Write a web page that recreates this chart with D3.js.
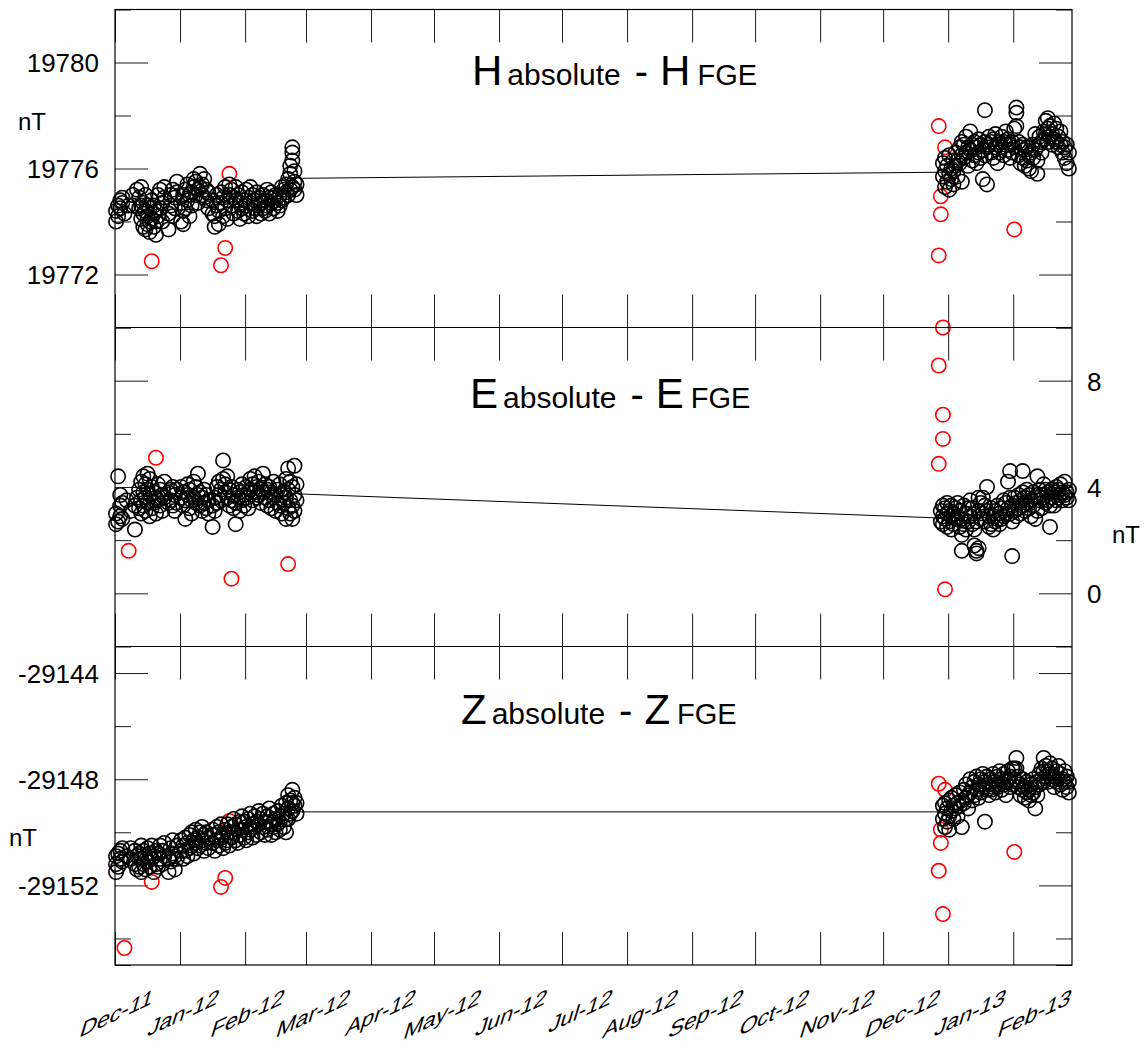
<!DOCTYPE html>
<html>
<head>
<meta charset="utf-8">
<script src="https://cdn.jsdelivr.net/npm/d3@7"></script>
<style>
  body { margin: 0; background: #fff; }
  svg { display: block; }
  text { font-family: "Liberation Sans", Arial, Helvetica, sans-serif; fill: #000; }
</style>
</head>
<body>
<svg id="chart" width="1145" height="1048"></svg>
<script>
// Month labels along the bottom axis
const monthLabels = ["Dec-11","Jan-12","Feb-12","Mar-12","Apr-12","May-12","Jun-12",
                     "Jul-12","Aug-12","Sep-12","Oct-12","Nov-12","Dec-12","Jan-13","Feb-13"];

// Tick values for each panel (labelled majors, unlabelled minors)
const hMajor = [19772, 19776, 19780], hMinor = [19770, 19774, 19778, 19782];
const eMajor = [0, 4, 8],             eMinor = [-2, 2, 6, 10];
const zMajor = [-29152, -29148, -29144], zMinor = [-29155, -29154, -29150, -29146];

// H: absolute - FGE, accepted observations (date, values measured that day)
const hObs = [
["2011-12-01",19774.0,19774.4],["2011-12-02",19774.6,19774.2],["2011-12-03",19774.8,19774.5],
["2011-12-04",19774.7,19774.9],["2011-12-05",19774.3],["2011-12-07",19774.6],
["2011-12-09",19775.0,19774.6],["2011-12-11",19775.2],["2011-12-12",19774.5,19774.9],
["2011-12-13",19774.1,19774.6,19775.3],["2011-12-14",19773.8,19774.3,19774.7],
["2011-12-15",19773.7,19774.4,19775.0],["2011-12-16",19773.9,19774.2,19774.6],
["2011-12-17",19773.6,19774.0,19774.5],["2011-12-18",19774.1,19774.8],
["2011-12-19",19773.8,19774.3,19774.6],["2011-12-20",19773.5,19774.0,19774.4],
["2011-12-21",19774.2,19775.0],["2011-12-22",19774.5,19775.2],["2011-12-23",19774.0,19774.7],
["2011-12-24",19774.9,19775.3],["2011-12-26",19773.7,19774.3],["2011-12-27",19774.6,19775.0],
["2011-12-28",19774.2,19775.2],["2011-12-29",19774.5,19774.9],["2011-12-30",19775.1,19775.5],
["2012-01-01",19774.0,19774.7],["2012-01-02",19773.9,19774.4,19775.0],["2012-01-03",19774.5,19775.2],
["2012-01-04",19774.8,19775.4],["2012-01-05",19774.2,19775.0],["2012-01-06",19774.6,19775.1],
["2012-01-07",19775.3,19775.6],["2012-01-08",19775.0,19775.5],["2012-01-09",19774.7,19775.2],
["2012-01-10",19775.8,19775.3],["2012-01-11",19775.0,19775.4],["2012-01-12",19774.9,19775.6],
["2012-01-13",19775.2,19774.8],["2012-01-14",19774.5,19775.1],["2012-01-16",19774.3,19774.8],
["2012-01-17",19773.8,19774.2],["2012-01-18",19774.6,19775.0],["2012-01-19",19773.9,19774.4],
["2012-01-20",19774.7,19775.1],["2012-01-21",19774.2,19774.9],["2012-01-22",19774.5,19775.3],
["2012-01-23",19774.1,19774.8],["2012-01-24",19775.0,19775.4],["2012-01-25",19774.6,19775.2],
["2012-01-26",19774.3,19774.9],["2012-01-27",19774.8,19775.3],["2012-01-28",19774.4,19775.0],
["2012-01-29",19774.1,19774.7],["2012-01-30",19775.1,19774.5],["2012-01-31",19774.3,19774.8],
["2012-02-01",19774.6,19775.2],["2012-02-02",19774.2,19774.9],["2012-02-03",19774.7,19775.3],
["2012-02-04",19774.4,19775.0],["2012-02-05",19774.5,19774.8],["2012-02-06",19774.2,19775.1],
["2012-02-07",19774.6,19774.9],["2012-02-08",19774.3,19774.7],["2012-02-09",19774.5,19775.0],
["2012-02-10",19774.8,19774.4],["2012-02-11",19774.6,19775.2],["2012-02-12",19774.3,19774.9],
["2012-02-13",19774.7,19775.1],["2012-02-14",19774.5,19774.9],["2012-02-15",19774.8,19775.0],
["2012-02-16",19774.4,19774.7],["2012-02-17",19775.0,19774.6],["2012-02-18",19774.8,19775.3],
["2012-02-19",19774.9,19775.2],["2012-02-20",19775.1,19775.4],["2012-02-21",19775.0,19775.6],
["2012-02-22",19775.2,19775.8,19776.1],["2012-02-23",19775.3,19776.3,19776.6,19776.8],
["2012-02-24",19775.5,19775.9,19775.2],["2012-02-25",19775.4,19775.0],
["2012-12-29",19775.7,19776.2],["2012-12-30",19775.3,19775.9,19776.4],["2012-12-31",19775.5,19776.1],
["2013-01-01",19775.8,19776.5,19775.2],["2013-01-02",19776.0,19775.6],["2013-01-03",19776.3,19775.9,19775.4],
["2013-01-04",19776.6,19776.1],["2013-01-05",19775.7,19776.3],["2013-01-06",19776.8,19776.2],
["2013-01-07",19776.5,19775.5,19777.0],["2013-01-08",19776.9,19776.4],["2013-01-09",19777.2,19776.6],
["2013-01-10",19776.1,19776.8],["2013-01-11",19777.4,19776.7],["2013-01-12",19776.3,19776.9],
["2013-01-13",19777.0,19776.5],["2013-01-14",19776.8,19776.2],["2013-01-15",19777.1,19776.6],
["2013-01-16",19776.4,19776.9],["2013-01-17",19775.6,19776.7],["2013-01-18",19778.2,19777.0,19776.5],
["2013-01-19",19775.4,19776.8],["2013-01-20",19776.9,19777.2],["2013-01-21",19776.6,19777.0],
["2013-01-22",19776.4,19777.1],["2013-01-23",19776.8,19777.3],["2013-01-24",19776.2,19776.9],
["2013-01-25",19777.0,19776.6],["2013-01-26",19776.8,19777.2],["2013-01-27",19776.5,19777.0],
["2013-01-28",19777.4,19776.9],["2013-01-29",19776.7,19777.1],["2013-01-30",19776.4,19776.9],
["2013-01-31",19777.0,19776.6],["2013-02-01",19777.5,19776.8],["2013-02-02",19778.3,19778.1,19777.6],
["2013-02-03",19777.0,19776.5],["2013-02-04",19776.8,19776.2],["2013-02-05",19776.4,19776.9],
["2013-02-06",19776.7,19776.1],["2013-02-07",19776.3,19776.8],["2013-02-08",19776.0,19776.5],
["2013-02-09",19775.9,19776.6],["2013-02-10",19776.4,19776.9],["2013-02-11",19777.3,19776.7],
["2013-02-12",19775.8,19776.3],["2013-02-13",19776.9,19777.2],["2013-02-14",19777.0,19776.6],
["2013-02-15",19777.4,19777.1],["2013-02-16",19777.8,19777.3],["2013-02-17",19777.9,19777.5,19777.0],
["2013-02-18",19777.6,19777.2],["2013-02-19",19777.3,19776.9],["2013-02-20",19777.7,19777.1],
["2013-02-21",19777.5,19777.0],["2013-02-22",19777.2,19776.8],["2013-02-23",19777.4,19776.9],
["2013-02-24",19777.0,19776.6],["2013-02-25",19776.8,19776.4],["2013-02-26",19776.9,19776.2],
["2013-02-27",19776.6,19776.0]
];
// H: rejected observations
const hOut = [
["2011-12-18",19772.5],["2012-01-20",19772.35],["2012-01-22",19773.0],["2012-01-24",19775.8],
["2012-12-27",19777.6],["2012-12-30",19776.8],["2012-12-28",19774.95],["2012-12-28",19774.27],
["2012-12-27",19772.72],["2013-02-01",19773.7]
];
// H: link between the two campaign ends
const hLink = [["2012-02-26",19775.63],["2012-12-29",19775.86]];

// E: absolute - FGE
const eObs = [
["2011-12-01",2.6,3.0],["2011-12-02",4.4,2.7],["2011-12-03",3.7,2.9,3.3],["2011-12-04",3.4,2.8],
["2011-12-06",3.5],["2011-12-08",3.1],["2011-12-10",2.4,3.3],["2011-12-11",3.6],
["2011-12-12",3.9,3.2],["2011-12-13",4.2,3.5,3.0],["2011-12-14",4.4,3.8,3.3],["2011-12-15",4.1,3.6,3.1],
["2011-12-16",4.5,3.9,3.4],["2011-12-17",4.3,3.7,2.9],["2011-12-18",4.0,3.2],["2011-12-19",3.8,3.4],
["2011-12-20",3.6,3.0],["2011-12-21",4.1,3.5],["2011-12-22",3.9,3.3],["2011-12-23",3.7,3.1],
["2011-12-24",4.2,3.6],["2011-12-26",3.8,3.4],["2011-12-27",3.5,3.9],["2011-12-28",4.0,3.3],
["2011-12-29",3.7,3.1],["2011-12-30",3.9,3.4],["2012-01-01",3.6,4.0],["2012-01-02",3.3,3.8],
["2012-01-03",2.8,3.5],["2012-01-04",3.7,4.1],["2012-01-05",3.2,3.9],["2012-01-06",3.5,3.0],
["2012-01-07",4.2,3.6],["2012-01-08",3.4,4.0],["2012-01-09",4.5,3.7],["2012-01-10",3.8,3.3],
["2012-01-11",3.6,3.1],["2012-01-12",3.9,3.4],["2012-01-13",3.2,3.7],["2012-01-14",3.5,3.0],
["2012-01-16",2.5,3.3],["2012-01-17",3.6,3.1],["2012-01-18",4.0,3.4],["2012-01-19",3.7,4.2],
["2012-01-20",3.9,3.5],["2012-01-21",5.0,4.3],["2012-01-22",3.8,4.1],["2012-01-23",3.6,4.4],
["2012-01-24",3.3,3.9],["2012-01-25",4.0,3.5],["2012-01-26",3.7,3.2],["2012-01-27",2.6,3.4],
["2012-01-28",3.9,3.6],["2012-01-29",3.1,3.8],["2012-01-30",4.1,3.5],["2012-01-31",3.7,3.3],
["2012-02-01",4.0,3.6],["2012-02-02",3.8,3.2],["2012-02-03",4.3,3.9],["2012-02-04",3.5,4.1],
["2012-02-05",4.4,3.8],["2012-02-06",3.6,4.0],["2012-02-07",4.2,3.7],["2012-02-08",3.4,3.9],
["2012-02-09",4.5,3.8],["2012-02-10",3.6,4.1],["2012-02-11",3.3,3.9],["2012-02-12",4.0,3.5],
["2012-02-13",3.2,3.8],["2012-02-14",4.2,3.6],["2012-02-15",3.1,3.7],["2012-02-16",3.9,3.4],
["2012-02-17",4.1,3.3],["2012-02-18",3.0,3.7],["2012-02-19",3.8,3.4],["2012-02-20",4.3,3.6,2.8],
["2012-02-21",4.7,3.9,3.2],["2012-02-22",4.2,3.5,3.0],["2012-02-23",4.0,3.3,2.8],
["2012-02-24",4.8,3.7,3.1],["2012-02-25",4.1,3.5],
["2012-12-28",2.7,3.1],["2012-12-29",2.9,3.3,2.6],["2012-12-30",3.2,2.8],["2012-12-31",3.0,2.5,3.4],
["2013-01-01",2.7,3.1],["2013-01-02",3.3,2.9,2.4],["2013-01-03",2.6,3.0],["2013-01-04",2.8,3.2],
["2013-01-05",2.9,3.4],["2013-01-06",2.5,3.1],["2013-01-07",1.6,2.8,2.2],["2013-01-08",3.3,2.6],
["2013-01-09",2.4,3.0],["2013-01-10",2.7,3.2],["2013-01-11",2.9,3.5],["2013-01-12",3.2,2.6],
["2013-01-13",2.4,3.0,1.8],["2013-01-14",1.6,1.5,2.7],["2013-01-15",1.7,3.1,3.6],["2013-01-16",3.4,2.8],
["2013-01-17",3.6,3.0],["2013-01-18",3.3,2.7],["2013-01-19",4.0,3.1],["2013-01-20",2.9,2.5],
["2013-01-21",3.2,2.6],["2013-01-22",2.4,2.9],["2013-01-23",3.1,2.7],["2013-01-24",2.8,3.3],
["2013-01-25",2.6,3.0],["2013-01-26",3.2,2.8],["2013-01-27",3.5,2.9],["2013-01-28",3.0,3.4],
["2013-01-29",4.2,3.2],["2013-01-30",4.6,3.6,3.0],["2013-01-31",1.4,3.3,2.7],["2013-02-01",3.6,3.1],
["2013-02-02",3.4,2.9],["2013-02-03",3.7,3.2],["2013-02-04",3.5,3.0],["2013-02-05",4.6,3.8,3.3],
["2013-02-06",3.6,3.1],["2013-02-07",3.9,3.4],["2013-02-08",3.2,3.7],["2013-02-09",3.5,2.9],
["2013-02-10",3.8,3.3],["2013-02-11",2.8,3.6],["2013-02-12",4.4,3.7,3.1],["2013-02-13",3.5,3.9],
["2013-02-14",3.2,3.7],["2013-02-15",4.1,3.6],["2013-02-16",3.4,3.9],["2013-02-17",3.8,3.5],
["2013-02-18",2.5,3.3],["2013-02-19",3.6,3.9],["2013-02-20",3.3,3.8],["2013-02-21",3.5,4.0],
["2013-02-22",3.9,3.6],["2013-02-23",4.1,3.7],["2013-02-24",3.5,3.8],["2013-02-25",4.2,3.7],
["2013-02-26",3.8,3.6],["2013-02-27",3.9,3.5]
];
const eOut = [
["2011-12-07",1.6],["2011-12-20",5.1],["2012-01-25",0.55],["2012-02-21",1.1],
["2012-12-29",10.0],["2012-12-27",8.57],["2012-12-29",6.72],["2012-12-29",5.81],
["2012-12-27",4.87],["2012-12-30",0.15]
];
const eLink = [["2012-02-26",3.74],["2012-12-29",2.83]];

// Z: absolute - FGE
const zObs = [
["2011-12-01",-29151.2,-29151.5,-29150.9],["2011-12-02",-29150.8,-29151.3],["2011-12-03",-29150.7,-29151.0],
["2011-12-04",-29151.1,-29150.6],["2011-12-06",-29150.9],["2011-12-08",-29151.0,-29150.6],
["2011-12-10",-29150.7,-29151.2],["2011-12-11",-29151.4,-29150.9],["2011-12-12",-29150.8,-29151.3],
["2011-12-13",-29151.0,-29150.5,-29151.5],["2011-12-14",-29150.7,-29151.2],["2011-12-15",-29151.4,-29150.9],
["2011-12-16",-29150.6,-29151.1],["2011-12-17",-29151.3,-29150.8],["2011-12-18",-29151.0,-29150.5],
["2011-12-19",-29151.5,-29150.9],["2011-12-20",-29151.2,-29150.7],["2011-12-21",-29150.8,-29151.3],
["2011-12-22",-29150.5,-29151.0],["2011-12-23",-29151.2,-29150.7],["2011-12-24",-29150.4,-29150.9],
["2011-12-26",-29151.5,-29151.0],["2011-12-27",-29150.6,-29151.1],["2011-12-28",-29150.3,-29150.8],
["2011-12-29",-29151.4,-29150.9],["2011-12-30",-29150.5,-29151.0],["2012-01-01",-29150.7,-29150.3],
["2012-01-02",-29151.0,-29150.5],["2012-01-03",-29150.2,-29150.7],["2012-01-04",-29150.9,-29150.4],
["2012-01-05",-29150.1,-29150.6],["2012-01-06",-29150.5,-29150.0],["2012-01-07",-29150.8,-29150.3],
["2012-01-08",-29149.9,-29150.4],["2012-01-09",-29150.6,-29150.2],["2012-01-10",-29150.0,-29150.5],
["2012-01-11",-29150.3,-29149.8],["2012-01-12",-29150.7,-29150.1],["2012-01-13",-29150.4,-29150.0],
["2012-01-14",-29150.6,-29150.2],["2012-01-16",-29150.4,-29149.9],["2012-01-17",-29150.1,-29150.7],
["2012-01-18",-29149.8,-29150.3],["2012-01-19",-29150.5,-29150.0],["2012-01-20",-29150.2,-29149.7],
["2012-01-21",-29150.6,-29150.1],["2012-01-22",-29149.9,-29150.4],["2012-01-23",-29150.3,-29149.7],
["2012-01-24",-29150.0,-29150.5],["2012-01-25",-29149.8,-29150.2],["2012-01-26",-29149.5,-29150.0],
["2012-01-27",-29150.3,-29149.7],["2012-01-28",-29149.9,-29150.4],["2012-01-29",-29149.6,-29150.1],
["2012-01-30",-29149.4,-29149.9],["2012-01-31",-29150.2,-29149.6],["2012-02-01",-29149.8,-29150.3],
["2012-02-02",-29149.5,-29150.0],["2012-02-03",-29149.9,-29149.3],["2012-02-04",-29149.7,-29150.2],
["2012-02-05",-29149.4,-29149.8],["2012-02-06",-29150.1,-29149.6],["2012-02-07",-29149.2,-29149.7],
["2012-02-08",-29149.5,-29150.0],["2012-02-09",-29149.8,-29149.3],["2012-02-10",-29149.6,-29150.1],
["2012-02-11",-29149.4,-29149.9],["2012-02-12",-29149.1,-29149.6],["2012-02-13",-29149.7,-29150.1],
["2012-02-14",-29149.3,-29149.8],["2012-02-15",-29149.5,-29150.0],["2012-02-16",-29149.2,-29149.7],
["2012-02-17",-29149.6,-29149.9],["2012-02-18",-29149.0,-29149.4],["2012-02-19",-29149.3,-29149.8],
["2012-02-20",-29148.9,-29149.5,-29150.0],["2012-02-21",-29148.6,-29149.1,-29149.5],
["2012-02-22",-29148.8,-29149.3],["2012-02-23",-29148.4,-29148.9,-29149.2],["2012-02-24",-29148.7,-29149.0],
["2012-02-25",-29148.9,-29149.3],
["2012-12-29",-29149.0,-29149.5],["2012-12-30",-29149.3,-29149.8,-29148.9],["2012-12-31",-29149.6,-29149.1],
["2013-01-01",-29148.8,-29149.4,-29149.9],["2013-01-02",-29149.2,-29148.7],["2013-01-03",-29149.5,-29149.0],
["2013-01-04",-29148.6,-29149.1],["2013-01-05",-29148.9,-29149.4],["2013-01-06",-29148.5,-29149.0],
["2013-01-07",-29149.8,-29148.8],["2013-01-08",-29148.4,-29148.9],["2013-01-09",-29148.2,-29148.7],
["2013-01-10",-29148.6,-29149.1],["2013-01-11",-29148.0,-29148.5],["2013-01-12",-29148.3,-29148.8],
["2013-01-13",-29148.1,-29148.6],["2013-01-14",-29147.9,-29148.4],["2013-01-15",-29148.2,-29148.7],
["2013-01-16",-29148.5,-29148.0],["2013-01-17",-29147.8,-29148.3],["2013-01-18",-29149.6,-29148.1],
["2013-01-19",-29148.4,-29147.9],["2013-01-20",-29148.2,-29148.6],["2013-01-21",-29148.0,-29148.4],
["2013-01-22",-29148.3,-29147.8],["2013-01-23",-29148.1,-29148.5],["2013-01-24",-29147.9,-29148.3],
["2013-01-25",-29148.2,-29147.7],["2013-01-26",-29148.0,-29148.4],["2013-01-27",-29147.8,-29148.2],
["2013-01-28",-29148.1,-29148.6],["2013-01-29",-29147.7,-29148.0],["2013-01-30",-29147.9,-29148.3],
["2013-01-31",-29148.2,-29147.6],["2013-02-01",-29147.6,-29148.0],["2013-02-02",-29147.2,-29147.6,-29148.1],
["2013-02-03",-29147.9,-29148.3],["2013-02-04",-29148.2,-29148.6],["2013-02-05",-29148.0,-29148.4],
["2013-02-06",-29148.3,-29148.7],["2013-02-07",-29148.1,-29148.5],["2013-02-08",-29148.4,-29148.8],
["2013-02-09",-29148.2,-29148.6],["2013-02-10",-29148.0,-29148.5],["2013-02-11",-29148.3,-29149.1],
["2013-02-12",-29148.1,-29148.6],["2013-02-13",-29147.8,-29148.2],["2013-02-14",-29147.6,-29148.0],
["2013-02-15",-29147.2,-29147.7,-29148.1],["2013-02-16",-29147.5,-29147.9],["2013-02-17",-29147.7,-29148.1],
["2013-02-18",-29147.4,-29147.8],["2013-02-19",-29147.6,-29148.0],["2013-02-20",-29147.9,-29148.3],
["2013-02-21",-29147.7,-29148.1],["2013-02-22",-29147.5,-29148.0],["2013-02-23",-29147.8,-29148.2],
["2013-02-24",-29148.0,-29148.4],["2013-02-25",-29147.7,-29148.1],["2013-02-26",-29147.9,-29148.3],
["2013-02-27",-29148.1,-29148.5]
];
const zOut = [
["2011-12-05",-29154.36],["2011-12-18",-29151.87],["2012-01-20",-29152.06],["2012-01-22",-29151.72],
["2012-01-24",-29149.57],
["2012-12-27",-29148.17],["2012-12-30",-29148.4],["2012-12-28",-29149.9],["2012-12-28",-29150.4],
["2012-12-27",-29151.45],["2012-12-29",-29153.08],["2013-02-01",-29150.74]
];
const zLink = [["2012-02-26",-29149.23],["2012-12-29",-29149.23]];

// ---------------------------------------------------------------------------
const svg = d3.select("#chart");
svg.append("rect").attr("width", 1145).attr("height", 1048).attr("fill", "#fff");

const parseDay = d3.utcParse("%Y-%m-%d");
const atNoon = s => new Date(parseDay(s).getTime() + 12 * 3600e3);
const expand = rows => rows.flatMap(([d, ...vals]) => vals.map(v => ({ t: atNoon(d), v })));

const left = 115, right = 1072;
const x = d3.scaleUtc()
  .domain([Date.UTC(2011, 11, 1), Date.UTC(2013, 2, 1)])
  .range([left, right]);
const monthTicks = d3.utcMonth.range(new Date(Date.UTC(2011, 11, 1)), new Date(Date.UTC(2013, 2, 1)));

const panels = [
  { letter: "H", obs: hObs, out: hOut, link: hLink, domain: [19770, 19782], major: hMajor, minor: hMinor,
    top: 9.5, bottom: 327.5, labelSide: "left", titleX: 472, titleY: 85, unit: [18, 130] },
  { letter: "E", obs: eObs, out: eOut, link: eLink, domain: [-2, 10], major: eMajor, minor: eMinor,
    top: 327.5, bottom: 646.5, labelSide: "right", titleX: 470, titleY: 408, unit: [1112, 543] },
  { letter: "Z", obs: zObs, out: zOut, link: zLink, domain: [-29155, -29143], major: zMajor, minor: zMinor,
    top: 646.5, bottom: 965, labelSide: "left", titleX: 461, titleY: 724, unit: [9, 846] }
];

const styleAxis = g => {
  g.select(".domain").remove();
  g.selectAll(".tick line").attr("stroke", "#1a1a1a").attr("stroke-width", 1);
  g.selectAll(".tick text").attr("font-size", 26).attr("fill", "#000")
    .attr("font-family", '"Liberation Sans", Arial, sans-serif').attr("dy", "0.36em");
};

// plain integer labels with an ASCII hyphen for negatives
const fmt = d => String(d);

panels.forEach(p => {
  const y = d3.scaleLinear().domain(p.domain).range([p.bottom, p.top]);
  const g = svg.append("g");

  // month ticks along the top and bottom edge of the panel, pointing inwards
  g.append("g").attr("transform", `translate(0,${p.top})`)
    .call(d3.axisBottom(x).tickValues(monthTicks).tickSize(33).tickFormat(""))
    .call(styleAxis);
  g.append("g").attr("transform", `translate(0,${p.bottom})`)
    .call(d3.axisTop(x).tickValues(monthTicks).tickSize(33).tickFormat(""))
    .call(styleAxis);

  // value ticks on both sides, pointing inwards
  g.append("g").attr("transform", `translate(${left},0)`)
    .call(d3.axisLeft(y).tickValues(p.major).tickSize(-33).tickPadding(16)
      .tickFormat(p.labelSide === "left" ? fmt : ""))
    .call(styleAxis);
  g.append("g").attr("transform", `translate(${left},0)`)
    .call(d3.axisLeft(y).tickValues(p.minor).tickSize(-16).tickFormat(""))
    .call(styleAxis);
  g.append("g").attr("transform", `translate(${right},0)`)
    .call(d3.axisRight(y).tickValues(p.major).tickSize(-33).tickPadding(15)
      .tickFormat(p.labelSide === "right" ? fmt : ""))
    .call(styleAxis);
  g.append("g").attr("transform", `translate(${right},0)`)
    .call(d3.axisRight(y).tickValues(p.minor).tickSize(-16).tickFormat(""))
    .call(styleAxis);

  // unit label
  g.append("text").attr("x", p.unit[0]).attr("y", p.unit[1])
    .attr("font-size", 24).text("nT");

  // title: "X absolute - X FGE"
  const title = g.append("text").attr("x", p.titleX).attr("y", p.titleY);
  title.append("tspan").attr("font-size", 42).text(p.letter);
  title.append("tspan").attr("font-size", 30).attr("dx", 5).text("absolute");
  title.append("tspan").attr("font-size", 40).attr("dx", 14).text("-");
  title.append("tspan").attr("font-size", 42).attr("dx", 12).text(p.letter);
  title.append("tspan").attr("font-size", 29).attr("dx", 7).text("FGE");

  // straight link between the end of one campaign and the start of the next
  const line = d3.line().x(d => x(atNoon(d[0]))).y(d => y(d[1]));
  g.append("path").attr("d", line(p.link)).attr("fill", "none")
    .attr("stroke", "#000").attr("stroke-width", 1);

  // rejected values (red) beneath the accepted ones (black)
  const marks = g.append("g").attr("fill", "none").attr("stroke-width", 1.6);
  marks.selectAll("circle.out").data(p.out.map(([d, v]) => ({ t: atNoon(d), v })))
    .join("circle").attr("class", "out")
    .attr("cx", d => x(d.t)).attr("cy", d => y(d.v)).attr("r", 7.2).attr("stroke", "#ff0000");
  marks.selectAll("circle.obs").data(expand(p.obs))
    .join("circle").attr("class", "obs")
    .attr("cx", d => x(d.t)).attr("cy", d => y(d.v)).attr("r", 7.2).attr("stroke", "#000");
});

// frame and panel separators
svg.append("rect").attr("x", left).attr("y", 9.5).attr("width", right - left).attr("height", 965 - 9.5)
  .attr("fill", "none").attr("stroke", "#000").attr("stroke-width", 1.2);
panels.slice(1).forEach(p => {
  svg.append("line").attr("x1", left).attr("x2", right).attr("y1", p.top).attr("y2", p.top)
    .attr("stroke", "#000").attr("stroke-width", 1.2);
});

// slanted month labels under the bottom panel, evenly spaced
const labelX = d3.scalePoint().domain(monthLabels).range([151, 1069]);
svg.append("g").selectAll("text").data(monthLabels)
  .join("text")
  .attr("transform", d => `matrix(1,-0.47,-0.3,1,${labelX(d)},1004)`)
  .attr("text-anchor", "end").attr("font-size", 23)
  .text(d => d);
</script>
</body>
</html>
